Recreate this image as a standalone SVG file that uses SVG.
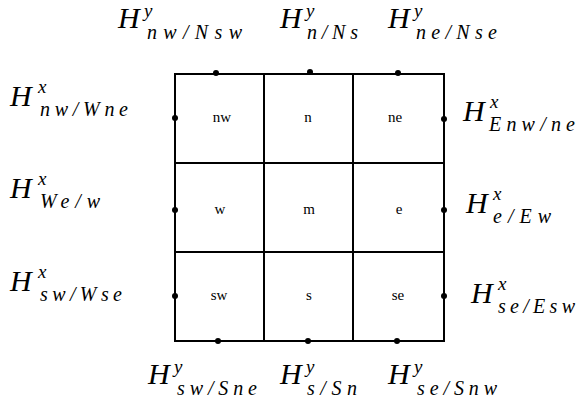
<svg xmlns="http://www.w3.org/2000/svg" width="577" height="410" viewBox="0 0 577 410">
<style>
.ln{stroke:#000;stroke-width:2;fill:none;stroke-linecap:square}
.dot{fill:#000}
.cell{font-family:"Liberation Serif",serif;font-size:15px;text-anchor:middle;fill:#000}
.H{font-family:"Liberation Serif",serif;font-style:italic;font-size:30px;fill:#000}
.s{font-family:"Liberation Serif",serif;font-style:italic;font-size:20px;fill:#000}
.p{font-family:"Liberation Serif",serif;font-style:italic;font-size:19px;fill:#000}
</style>
<rect width="577" height="410" fill="#fff"/>
<g id="connectors">
<rect class="ln" x="175" y="74" width="269" height="267"/>
<line class="ln" x1="264" y1="74" x2="264" y2="341"/>
<line class="ln" x1="353" y1="74" x2="353" y2="341"/>
<line class="ln" x1="175" y1="163" x2="444" y2="163"/>
<line class="ln" x1="175" y1="252" x2="444" y2="252"/>
</g>
<g id="cells">
<g id="nw"><text class="cell" x="222" y="122">nw</text></g>
<g id="n"><text class="cell" x="308" y="122">n</text></g>
<g id="ne"><text class="cell" x="395" y="122">ne</text></g>
<g id="w"><text class="cell" x="220" y="214">w</text></g>
<g id="m"><text class="cell" x="309" y="214">m</text></g>
<g id="e"><text class="cell" x="399" y="214">e</text></g>
<g id="sw"><text class="cell" x="219" y="300">sw</text></g>
<g id="s"><text class="cell" x="309" y="300">s</text></g>
<g id="se"><text class="cell" x="398" y="300">se</text></g>
</g>
<g id="dots">
<circle class="dot" cx="216" cy="73" r="3"/>
<circle class="dot" cx="310" cy="72" r="3"/>
<circle class="dot" cx="398" cy="73" r="3"/>
<circle class="dot" cx="218" cy="341" r="3"/>
<circle class="dot" cx="308" cy="341" r="3"/>
<circle class="dot" cx="397" cy="341" r="3"/>
<circle class="dot" cx="175" cy="118" r="3"/>
<circle class="dot" cx="175" cy="210" r="3"/>
<circle class="dot" cx="175" cy="296" r="3"/>
<circle class="dot" cx="444" cy="119" r="3"/>
<circle class="dot" cx="444" cy="210" r="3"/>
<circle class="dot" cx="444" cy="296" r="3"/>
</g>
<g id="labels">
<g id="T1"><text class="H" x="118" y="28">H</text><text class="p" x="144" y="17">y</text><text class="s" x="147" y="39" textLength="95" lengthAdjust="spacing">nw/Nsw</text></g>
<g id="T2"><text class="H" x="280" y="28">H</text><text class="p" x="306" y="17">y</text><text class="s" x="307" y="39" textLength="51" lengthAdjust="spacing">n/Ns</text></g>
<g id="T3"><text class="H" x="388" y="28">H</text><text class="p" x="414" y="17">y</text><text class="s" x="416" y="39" textLength="81" lengthAdjust="spacing">ne/Nse</text></g>
<g id="B1"><text class="H" x="148" y="384">H</text><text class="p" x="174" y="373">y</text><text class="s" x="177" y="395" textLength="80" lengthAdjust="spacing">sw/Sne</text></g>
<g id="B2"><text class="H" x="280" y="384">H</text><text class="p" x="306" y="373">y</text><text class="s" x="307" y="395" textLength="50" lengthAdjust="spacing">s/Sn</text></g>
<g id="B3"><text class="H" x="388" y="384">H</text><text class="p" x="414" y="373">y</text><text class="s" x="417" y="395" textLength="80" lengthAdjust="spacing">se/Snw</text></g>
<g id="L1"><text class="H" x="10" y="106">H</text><text class="p" x="38" y="93">x</text><text class="s" x="40" y="116" textLength="88" lengthAdjust="spacing">nw/Wne</text></g>
<g id="L2"><text class="H" x="10" y="198">H</text><text class="p" x="38" y="185">x</text><text class="s" x="40" y="208" textLength="60" lengthAdjust="spacing">We/w</text></g>
<g id="L3"><text class="H" x="10" y="291">H</text><text class="p" x="38" y="278">x</text><text class="s" x="40" y="301" textLength="82" lengthAdjust="spacing">sw/Wse</text></g>
<g id="R1"><text class="H" x="463" y="121">H</text><text class="p" x="490" y="108">x</text><text class="s" x="489" y="131" textLength="86" lengthAdjust="spacing">Enw/ne</text></g>
<g id="R2"><text class="H" x="466" y="213">H</text><text class="p" x="493" y="200">x</text><text class="s" x="493" y="223" textLength="58" lengthAdjust="spacing">e/Ew</text></g>
<g id="R3"><text class="H" x="471" y="303">H</text><text class="p" x="498" y="290">x</text><text class="s" x="498" y="313" textLength="77" lengthAdjust="spacing">se/Esw</text></g>
</g>
</svg>
